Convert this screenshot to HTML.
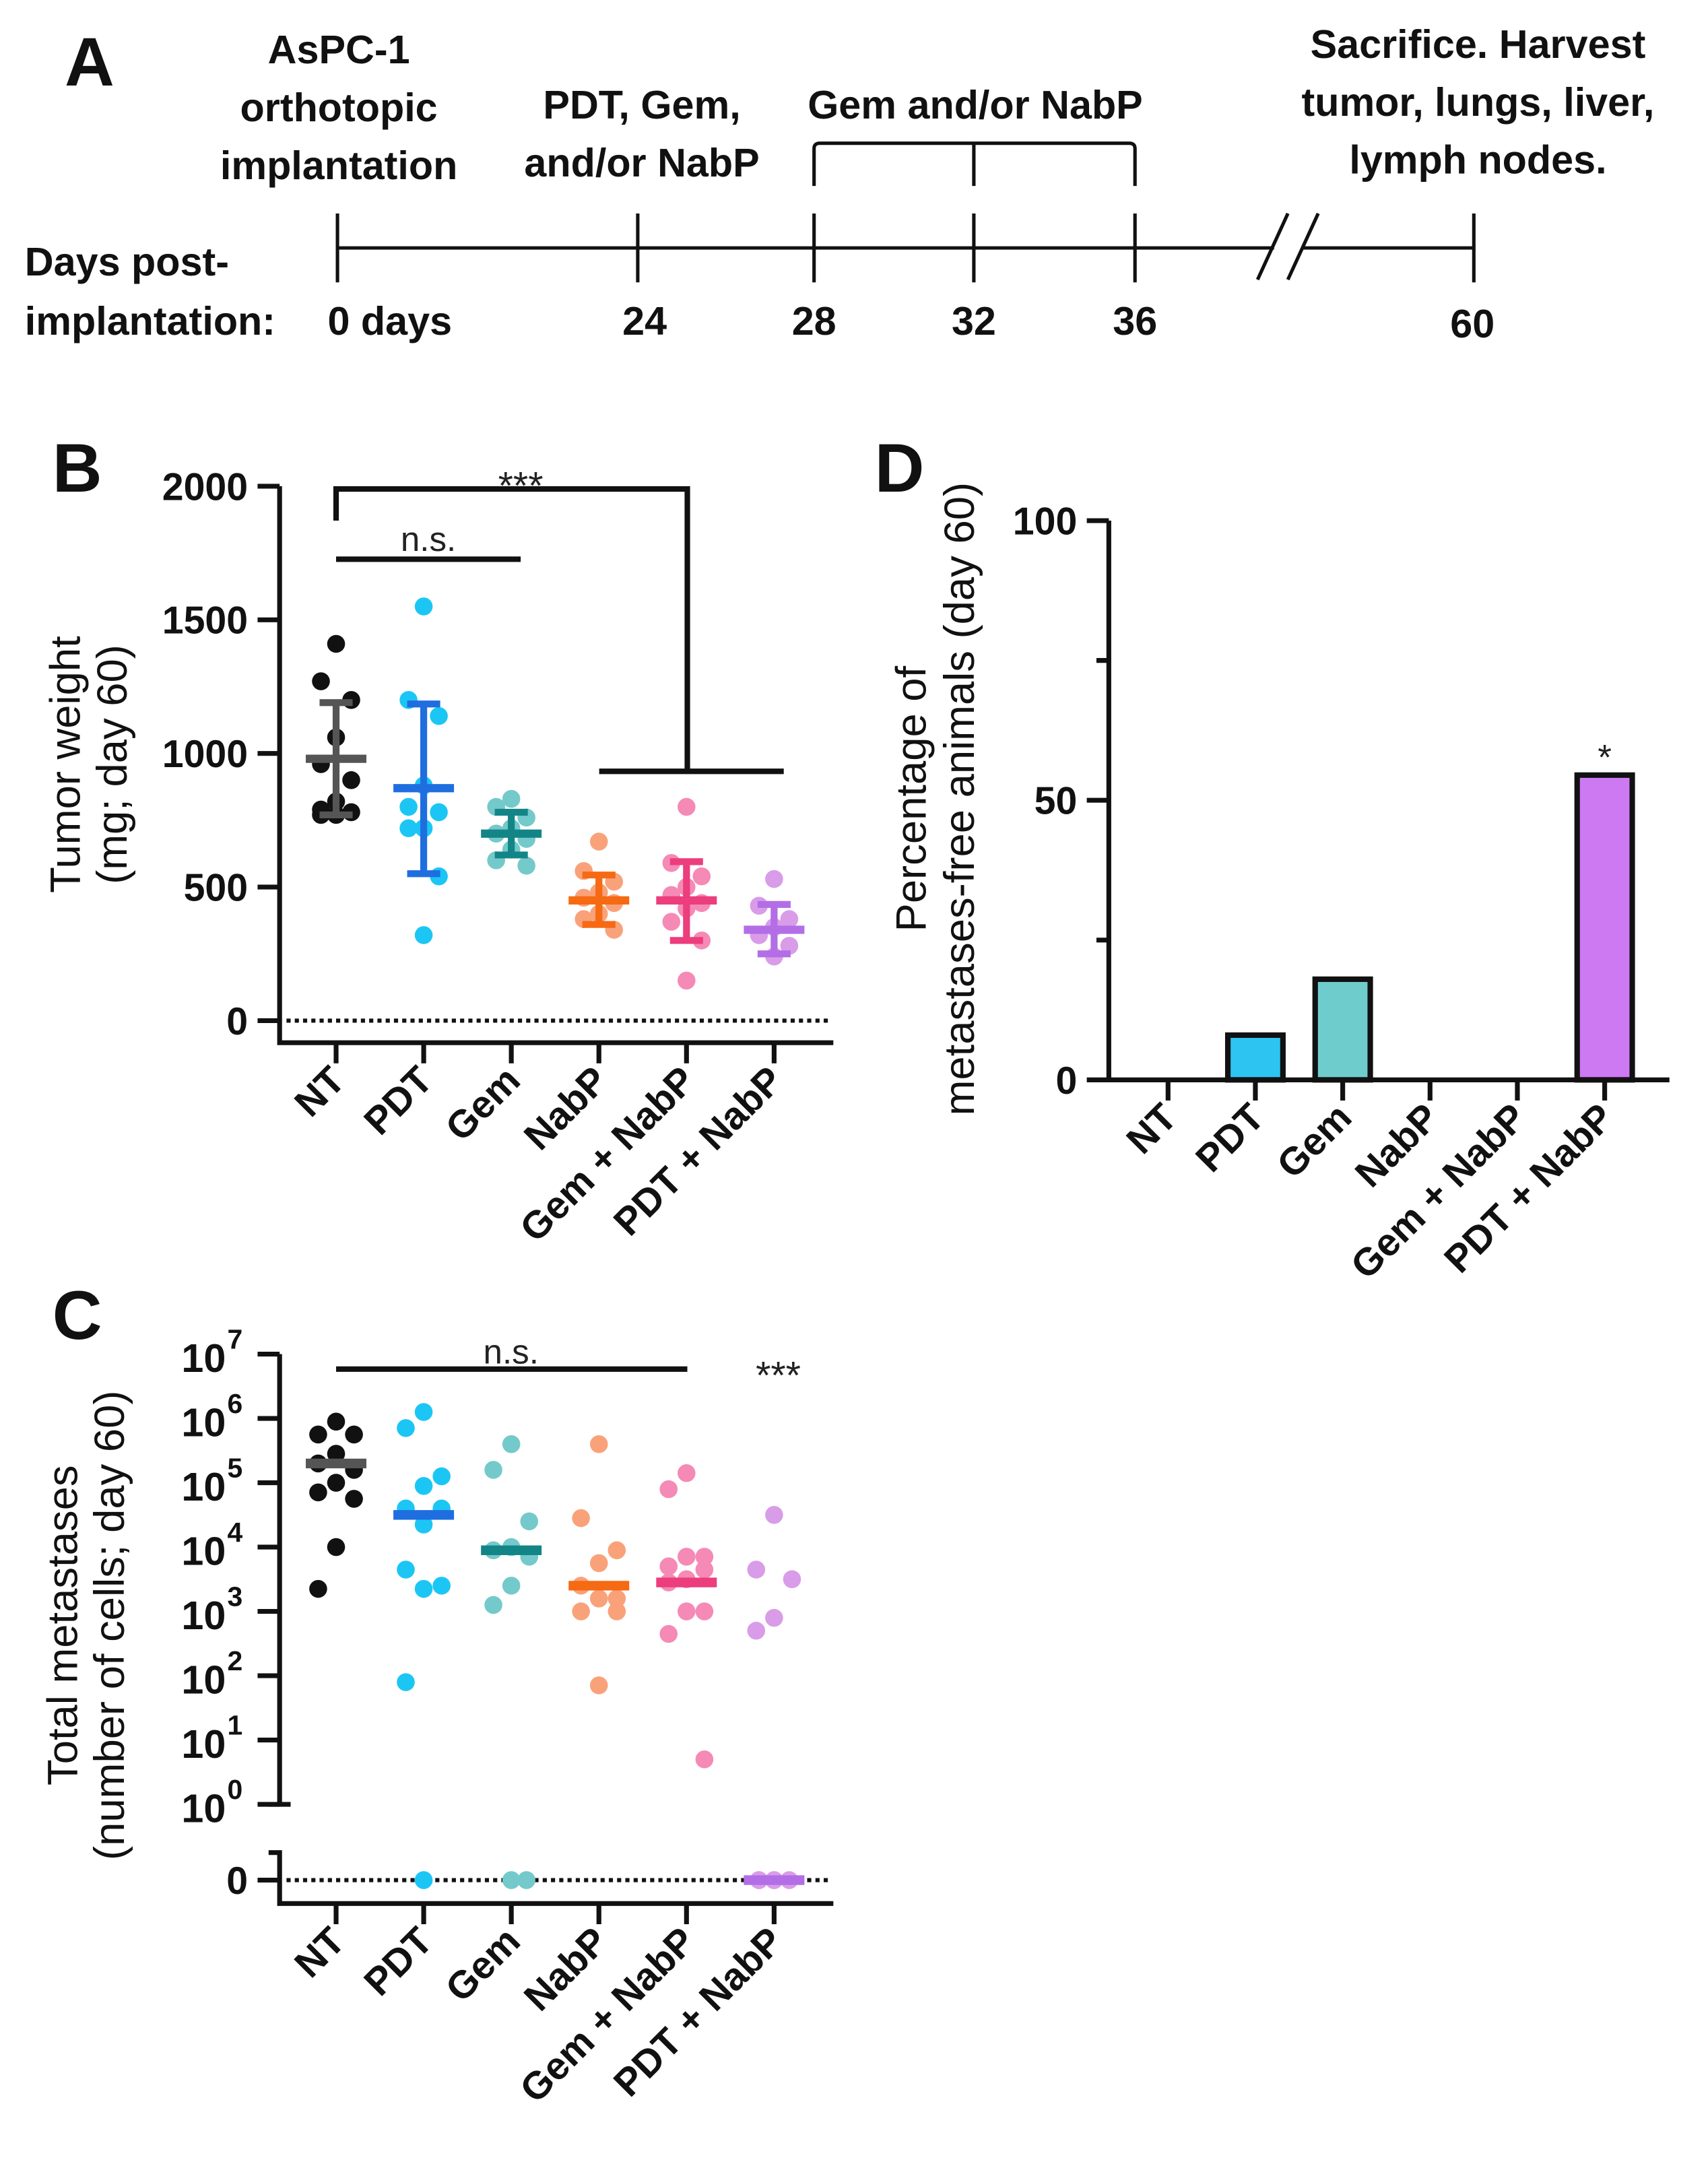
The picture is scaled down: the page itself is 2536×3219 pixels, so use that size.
<!DOCTYPE html>
<html><head><meta charset="utf-8"><style>
html,body{margin:0;padding:0;background:#fff}
svg{display:block}
text{font-family:"Liberation Sans",Arial,sans-serif}
</style></head><body>
<svg id="fig" width="2536" height="3219" viewBox="0 0 1240 1574" preserveAspectRatio="none" xmlns="http://www.w3.org/2000/svg">
<g font-weight="bold" font-size="29" text-anchor="middle" fill="#111">
 <text x="65" y="62" font-size="50">A</text>
 <text x="246" y="46">AsPC-1</text>
 <text x="246" y="88">orthotopic</text>
 <text x="246" y="130">implantation</text>
 <text x="466" y="86">PDT, Gem,</text>
 <text x="466" y="128">and/or NabP</text>
 <text x="708" y="86">Gem and/or NabP</text>
 <text x="1073" y="42">Sacrifice. Harvest</text>
 <text x="1073" y="84">tumor, lungs, liver,</text>
 <text x="1073" y="126">lymph nodes.</text>
 <text x="18" y="200" text-anchor="start">Days post-</text>
 <text x="18" y="243" text-anchor="start">implantation:</text>
 <text x="283" y="243">0 days</text>
 <text x="468" y="243">24</text>
 <text x="591" y="243">28</text>
 <text x="707" y="243">32</text>
 <text x="824" y="243">36</text>
 <text x="1069" y="245">60</text>
 <g stroke="#111" stroke-width="2.5" fill="none">
  <line x1="245" y1="180" x2="925" y2="180"/>
  <line x1="945" y1="180" x2="1070" y2="180"/>
  <line x1="245" y1="155" x2="245" y2="205"/>
  <line x1="463" y1="155" x2="463" y2="205"/>
  <line x1="591" y1="155" x2="591" y2="205"/>
  <line x1="707" y1="155" x2="707" y2="205"/>
  <line x1="824" y1="155" x2="824" y2="205"/>
  <line x1="1070" y1="155" x2="1070" y2="205"/>
  <line x1="913" y1="203" x2="935" y2="155"/>
  <line x1="935" y1="203" x2="957" y2="155"/>
  <path d="M591 135 L591 108 Q591 104 595 104 L820 104 Q824 104 824 108 L824 135"/>
  <line x1="707" y1="104" x2="707" y2="135"/>
 </g>
</g>
<g id="pb"></g>
<g id="pc"></g>
<g id="pd"></g>
</svg>
<script>
const groups = ["NT","PDT","Gem","NabP","Gem + NabP","PDT + NabP"];
const ptColors = ["#111111","#1cc6f4","#74c9cb","#f9a27a","#f58ab6","#d99ce8"];
const barColors = ["#555555","#1f6ee0","#138587","#f56a12","#ec3d7c","#b36ee6"];
// Panel B data (mg)
const bPoints = [
 [1410,1270,1200,1060,960,900,820,790,780,770,770],
 [1550,1200,1140,880,800,780,720,720,540,320],
 [830,800,760,720,700,680,640,600,580],
 [670,560,520,480,460,440,400,380,340],
 [800,590,540,500,470,440,420,370,300,150],
 [530,430,380,350,320,280,240]
];
const bMean = [980,870,700,450,450,340];
const bUpper = [1190,1185,780,545,595,435];
const bLower = [770,550,620,360,300,250];
const bTicks = [0,500,1000,1500,2000];
// Panel C data (log10 cells; null = zero)
const cPoints = [
 [5.95,5.75,5.75,5.45,5.3,5.2,5.0,4.85,4.75,4.0,3.35],
 [6.1,5.85,5.1,4.95,4.6,4.6,4.35,3.65,3.4,3.35,1.9,null],
 [5.6,5.2,4.4,4.0,3.95,3.85,3.4,3.1,null,null],
 [5.6,4.45,3.95,3.75,3.4,3.2,3.2,3.0,3.0,1.85],
 [5.15,4.9,3.85,3.85,3.7,3.65,3.5,3.45,3.0,3.0,2.65,0.7],
 [4.5,3.65,3.5,2.9,2.7,null,null,null,null,null]
];
const cMedian = [5.3,4.5,3.95,3.4,3.45,null];
const cTicks = [0,1,2,3,4,5,6,7];
// Panel D data (%)
const dValues = [0,8,18,0,0,54.5];
const dColors = ["#2ec4f2","#2ec4f2","#6fcccd","#fff","#fff","#cd79f2"];
const dTicks = [0,50,100];

const NS="http://www.w3.org/2000/svg";
function mk(parent,tag,attrs,txt){const e=document.createElementNS(NS,tag);for(const k in attrs)e.setAttribute(k,attrs[k]);if(txt!==undefined)e.textContent=txt;parent.appendChild(e);return e;}

// ---------- Panel B ----------
const pb=document.getElementById('pb');
const bx=i=>244+i*63.6;
const by=v=>741-v*0.194;
let t=mk(pb,'text',{x:38,y:357,'font-size':50,'font-weight':'bold',fill:'#111'},'B');


let ax=mk(pb,'path',{d:`M203 ${by(2000)} L203 757 L605 757`,stroke:'#111','stroke-width':3.5,fill:'none'});


bTicks.forEach(v=>{
 const l=mk(pb,'line',{x1:187,x2:203,y1:by(v),y2:by(v),stroke:'#111','stroke-width':3.5});
 
 
 const tx=mk(pb,'text',{x:180,y:by(v)+10,'text-anchor':'end','font-size':28,'font-weight':'bold',fill:'#111'},String(v));
 
 
});
let dl=mk(pb,'line',{x1:208,x2:602,y1:by(0),y2:by(0),stroke:'#111','stroke-width':3,'stroke-dasharray':'3 3'});


let yt=mk(pb,'text',{transform:'translate(58 555) rotate(-90)','text-anchor':'middle','font-size':31,fill:'#111'},'Tumor weight');


yt=mk(pb,'text',{transform:'translate(92 555) rotate(-90)','text-anchor':'middle','font-size':31,fill:'#111'},'(mg; day 60)');


groups.forEach((g,i)=>{
 const tk=mk(pb,'line',{x1:bx(i),x2:bx(i),y1:757,y2:772,stroke:'#111','stroke-width':3.5});
 
 
 const lb=mk(pb,'text',{transform:`translate(${bx(i)+8} 786) rotate(-45)`,'text-anchor':'end','font-size':28,'font-weight':'bold',fill:'#111'},g);
 
 
 bPoints[i].forEach((v,j)=>{
  const off=(j%3===0?0:(j%3===1?-1:1))*11;
  const c=mk(pb,'circle',{cx:bx(i)+off,cy:by(v),r:6.5,fill:ptColors[i]});
  
  
 });
 const e=mk(pb,'path',{d:`M${bx(i)} ${by(bUpper[i])} L${bx(i)} ${by(bLower[i])} M${bx(i)-12} ${by(bUpper[i])} L${bx(i)+12} ${by(bUpper[i])} M${bx(i)-12} ${by(bLower[i])} L${bx(i)+12} ${by(bLower[i])}`,stroke:barColors[i],'stroke-width':5,fill:'none'});
 
 
 const m=mk(pb,'line',{x1:bx(i)-22,x2:bx(i)+22,y1:by(bMean[i]),y2:by(bMean[i]),stroke:barColors[i],'stroke-width':6});
 
 
});
let br=mk(pb,'path',{d:`M244 378 L244 355 L499 355 L499 560 M435 560 L569 560 M244 406 L378 406`,stroke:'#111','stroke-width':4,fill:'none'});


t=mk(pb,'text',{x:378,y:362,'text-anchor':'middle','font-size':28,fill:'#222'},'***');


t=mk(pb,'text',{x:311,y:400,'text-anchor':'middle','font-size':25,fill:'#222'},'n.s.');



// ---------- Panel C ----------
const pc=document.getElementById('pc');
const cy=v=>v===null?1365:1310-v*46.7;
t=mk(pc,'text',{x:38,y:972,'font-size':50,'font-weight':'bold',fill:'#111'},'C');


ax=mk(pc,'path',{d:`M203 ${cy(7)} L203 1310 M195 1310 L211 1310 M195 1345 L203 1345 L203 1382 L605 1382`,stroke:'#111','stroke-width':3.5,fill:'none'});


cTicks.forEach(v=>{
 const l=mk(pc,'line',{x1:187,x2:203,y1:cy(v),y2:cy(v),stroke:'#111','stroke-width':3.5});
 
 
 const tx=mk(pc,'text',{x:164,y:cy(v)+13,'text-anchor':'end','font-size':29,'font-weight':'bold',fill:'#111'},'10');
 
 
 const sp=mk(pc,'text',{x:165,y:cy(v)-4,'font-size':20,'font-weight':'bold',fill:'#111'},String(v));
 
 
});
let z=mk(pc,'line',{x1:187,x2:203,y1:1365,y2:1365,stroke:'#111','stroke-width':3.5});


z=mk(pc,'text',{x:180,y:1375,'text-anchor':'end','font-size':28,'font-weight':'bold',fill:'#111'},'0');


dl=mk(pc,'line',{x1:208,x2:602,y1:1365,y2:1365,stroke:'#111','stroke-width':3,'stroke-dasharray':'3 3'});


yt=mk(pc,'text',{transform:'translate(56 1180) rotate(-90)','text-anchor':'middle','font-size':31,fill:'#111'},'Total metastases');


yt=mk(pc,'text',{transform:'translate(90 1180) rotate(-90)','text-anchor':'middle','font-size':31,fill:'#111'},'(number of cells; day 60)');


groups.forEach((g,i)=>{
 const x=bx(i);
 const tk=mk(pc,'line',{x1:x,x2:x,y1:1382,y2:1397,stroke:'#111','stroke-width':3.5});
 
 
 const lb=mk(pc,'text',{transform:`translate(${x+8} 1411) rotate(-45)`,'text-anchor':'end','font-size':28,'font-weight':'bold',fill:'#111'},g);
 
 
 let zc=0;
 cPoints[i].forEach((v,j)=>{
  let off;
  if(v===null){off=(zc%2===0?0:1)*11 - (zc>1?11:0);zc++;}
  else off=(j%3===0?0:(j%3===1?-1:1))*13;
  const c=mk(pc,'circle',{cx:x+off,cy:cy(v),r:6.5,fill:ptColors[i]});
  
  
 });
 const med=cMedian[i];
 const m=mk(pc,'line',{x1:x-22,x2:x+22,y1:cy(med),y2:cy(med),stroke:barColors[i],'stroke-width':7});
 
 
});
br=mk(pc,'line',{x1:244,x2:499,y1:994,y2:994,stroke:'#111','stroke-width':4});


t=mk(pc,'text',{x:371,y:990,'text-anchor':'middle','font-size':25,fill:'#222'},'n.s.');


t=mk(pc,'text',{x:565,y:1008,'text-anchor':'middle','font-size':28,fill:'#222'},'***');



// ---------- Panel D ----------
const pd=document.getElementById('pd');
const dx=i=>848+i*63.4;
const dy=v=>784-v*4.06;
t=mk(pd,'text',{x:635,y:357,'font-size':50,'font-weight':'bold',fill:'#111'},'D');


ax=mk(pd,'path',{d:`M805 ${dy(100)} L805 784 L1212 784`,stroke:'#111','stroke-width':3.5,fill:'none'});


[0,25,50,75,100].forEach(v=>{
 const l=mk(pd,'line',{x1:(v%50===0?789:796),x2:805,y1:dy(v),y2:dy(v),stroke:'#111','stroke-width':3.5});
 
 
});
dTicks.forEach(v=>{
 const tx=mk(pd,'text',{x:782,y:dy(v)+10,'text-anchor':'end','font-size':28,'font-weight':'bold',fill:'#111'},String(v));
 
 
});
yt=mk(pd,'text',{transform:'translate(672 580) rotate(-90)','text-anchor':'middle','font-size':31,fill:'#111'},'Percentage of');


yt=mk(pd,'text',{transform:'translate(707 580) rotate(-90)','text-anchor':'middle','font-size':31,fill:'#111'},'metastases-free animals (day 60)');


groups.forEach((g,i)=>{
 const x=dx(i);
 const tk=mk(pd,'line',{x1:x,x2:x,y1:784,y2:799,stroke:'#111','stroke-width':3.5});
 
 
 const lb=mk(pd,'text',{transform:`translate(${x+8} 813) rotate(-45)`,'text-anchor':'end','font-size':28,'font-weight':'bold',fill:'#111'},g);
 
 
 if(dValues[i]>0){
  const r=mk(pd,'rect',{x:x-20,y:dy(dValues[i]),width:40,height:784-dy(dValues[i]),fill:dColors[i],stroke:'#111','stroke-width':4});
  
  
 }
});
t=mk(pd,'text',{x:dx(5),y:dy(dValues[5])-4,'text-anchor':'middle','font-size':26,fill:'#222'},'*');


</script>
</body></html>
